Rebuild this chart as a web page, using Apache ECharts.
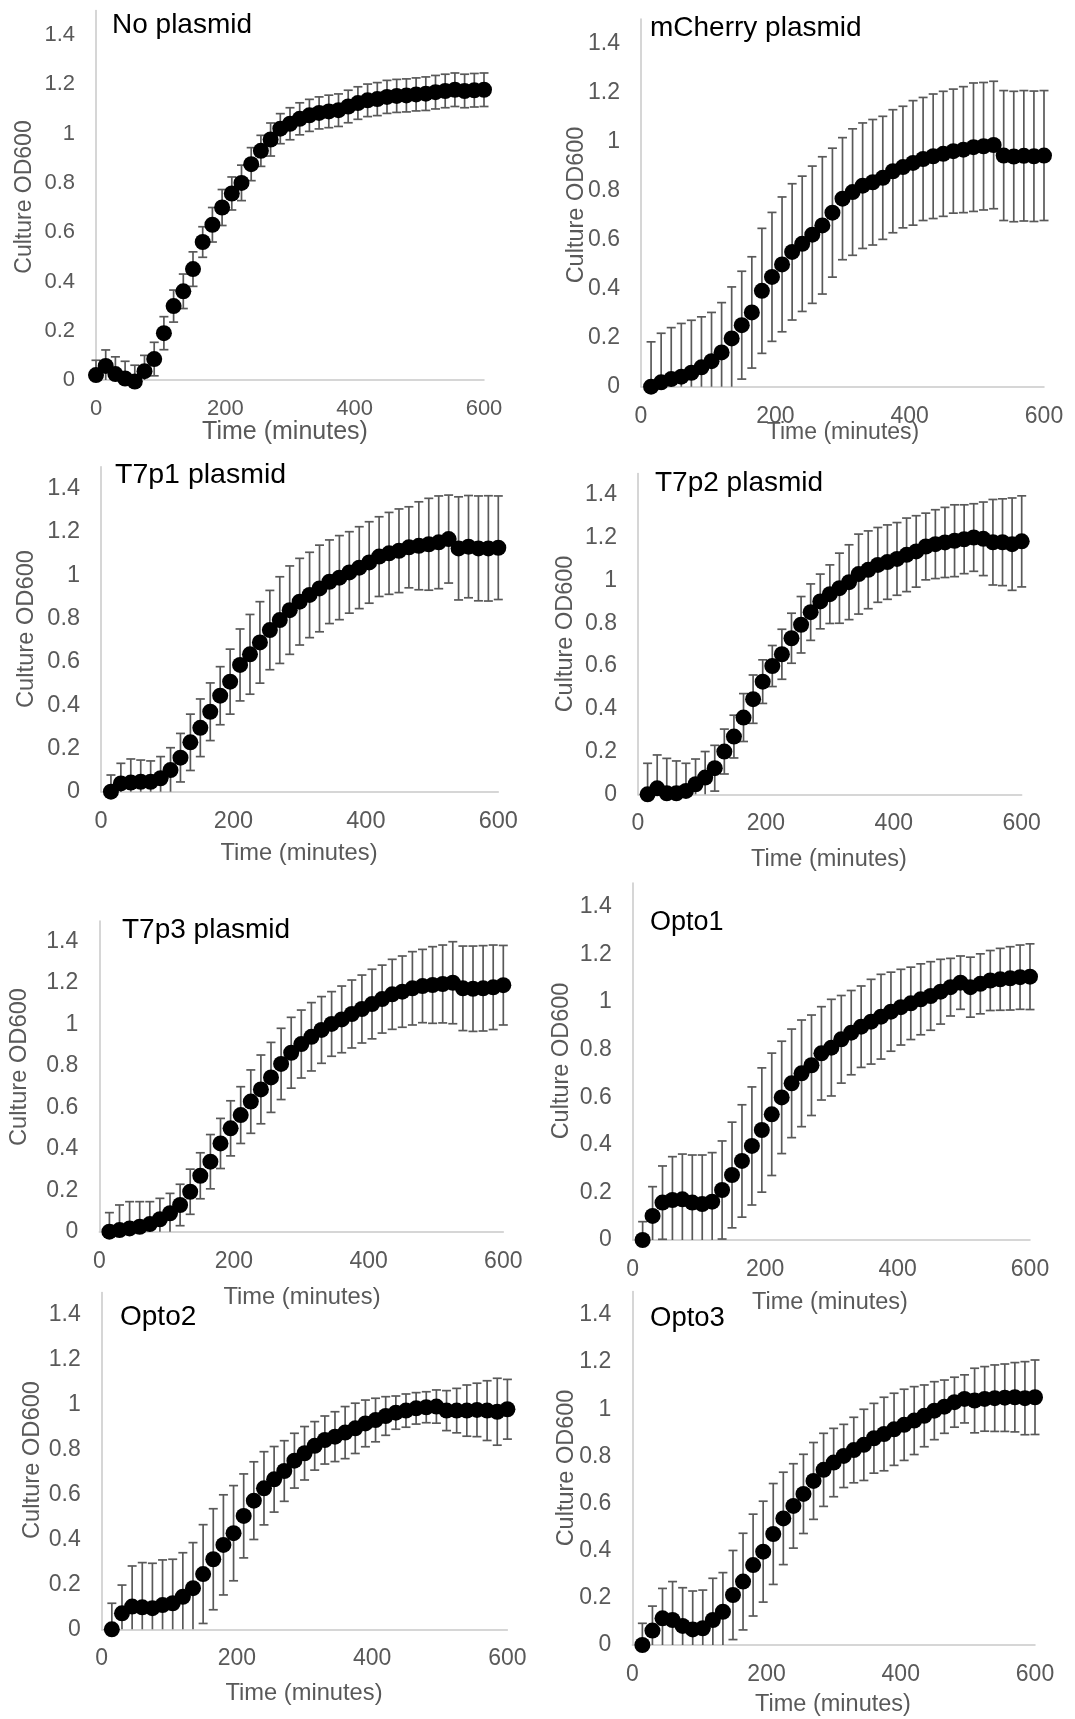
<!DOCTYPE html>
<html>
<head>
<meta charset="utf-8">
<title>Culture growth curves</title>
<script src="https://cdn.jsdelivr.net/npm/echarts@6/dist/echarts.min.js"></script>
<style>
  html, body { margin: 0; padding: 0; background: #ffffff; }
  #chart { width: 1075px; height: 1719px; }
</style>
</head>
<body>
<div id="chart"></div>
<script>
// Sampling times (minutes)
const timeFrom0 = [0, 15, 30, 45, 60, 75, 90, 105, 120, 135, 150, 165, 180, 195, 210, 225, 240, 255, 270, 285, 300,
  315, 330, 345, 360, 375, 390, 405, 420, 435, 450, 465, 480, 495, 510, 525, 540, 555, 570, 585, 600];
const timeFrom15 = [15, 30, 45, 60, 75, 90, 105, 120, 135, 150, 165, 180, 195, 210, 225, 240, 255, 270, 285, 300,
  315, 330, 345, 360, 375, 390, 405, 420, 435, 450, 465, 480, 495, 510, 525, 540, 555, 570, 585, 600];

// Mean OD600 and error for each strain
const noPlasmidOD = [0.02, 0.057, 0.024, 0.006, -0.006, 0.036, 0.085, 0.19, 0.30, 0.36, 0.45, 0.56, 0.63, 0.70, 0.757,
  0.80, 0.876, 0.93, 0.976, 1.02, 1.04, 1.06, 1.074, 1.084, 1.09, 1.095, 1.11, 1.124, 1.135, 1.14, 1.149, 1.153,
  1.155, 1.159, 1.162, 1.168, 1.173, 1.178, 1.173, 1.176, 1.178];
const noPlasmidErr = [0.06, 0.065, 0.07, 0.07, 0.066, 0.064, 0.068, 0.067, 0.065, 0.07, 0.07, 0.062, 0.07, 0.073,
  0.067, 0.072, 0.067, 0.063, 0.067, 0.061, 0.065, 0.065, 0.065, 0.065, 0.066, 0.066, 0.066, 0.066, 0.066, 0.067,
  0.067, 0.067, 0.067, 0.067, 0.068, 0.068, 0.068, 0.068, 0.068, 0.068, 0.068];

const mCherryOD = [0, 0.018, 0.031, 0.041, 0.057, 0.079, 0.104, 0.14, 0.197, 0.251,
  0.303, 0.391, 0.448, 0.499, 0.55, 0.583, 0.62, 0.658, 0.71, 0.767,
  0.794, 0.82, 0.834, 0.852, 0.879, 0.896, 0.913, 0.929, 0.94, 0.95,
  0.961, 0.967, 0.977, 0.981, 0.986, 0.943, 0.939, 0.942, 0.94, 0.943];
const mCherryErr = [0.183, 0.2, 0.21, 0.217, 0.214, 0.206, 0.199, 0.203, 0.21, 0.22,
  0.227, 0.255, 0.263, 0.275, 0.278, 0.276, 0.28, 0.28, 0.263, 0.249,
  0.258, 0.256, 0.256, 0.251, 0.251, 0.248, 0.254, 0.251, 0.254, 0.255,
  0.253, 0.257, 0.262, 0.26, 0.26, 0.265, 0.266, 0.266, 0.266, 0.265];

const t7p1OD = [0, 0.038, 0.042, 0.046, 0.046, 0.062, 0.1, 0.157, 0.228, 0.295,
  0.369, 0.443, 0.508, 0.585, 0.634, 0.689, 0.746, 0.792, 0.838, 0.877,
  0.908, 0.938, 0.969, 0.988, 1.012, 1.034, 1.058, 1.085, 1.1, 1.112,
  1.128, 1.135, 1.142, 1.151, 1.166, 1.123, 1.131, 1.123, 1.123, 1.126];
const t7p1Err = [0.077, 0.093, 0.109, 0.1, 0.096, 0.1, 0.103, 0.112, 0.13, 0.133,
  0.133, 0.134, 0.15, 0.166, 0.184, 0.188, 0.183, 0.2, 0.204, 0.2,
  0.197, 0.2, 0.193, 0.194, 0.188, 0.189, 0.188, 0.184, 0.189, 0.193,
  0.187, 0.203, 0.212, 0.214, 0.203, 0.238, 0.236, 0.242, 0.243, 0.239];

const t7p2OD = [0, 0.028, 0.005, 0.005, 0.016, 0.047, 0.078, 0.122, 0.2, 0.27,
  0.359, 0.445, 0.527, 0.6, 0.655, 0.73, 0.793, 0.852, 0.902, 0.936,
  0.964, 0.992, 1.03, 1.05, 1.073, 1.086, 1.101, 1.12, 1.136, 1.159,
  1.17, 1.178, 1.186, 1.193, 1.201, 1.195, 1.179, 1.179, 1.17, 1.183];
const t7p2Err = [0.145, 0.156, 0.163, 0.151, 0.129, 0.118, 0.122, 0.107, 0.105, 0.1,
  0.112, 0.113, 0.102, 0.096, 0.117, 0.117, 0.132, 0.132, 0.128, 0.137,
  0.164, 0.175, 0.187, 0.182, 0.175, 0.174, 0.17, 0.172, 0.167, 0.156,
  0.161, 0.164, 0.168, 0.161, 0.158, 0.172, 0.2, 0.203, 0.216, 0.213];

const t7p3OD = [0, 0.008, 0.016, 0.024, 0.037, 0.06, 0.089, 0.129, 0.193, 0.27,
  0.338, 0.426, 0.499, 0.563, 0.628, 0.687, 0.745, 0.81, 0.864, 0.906,
  0.941, 0.974, 1.003, 1.025, 1.051, 1.075, 1.099, 1.123, 1.146, 1.159,
  1.175, 1.186, 1.191, 1.196, 1.202, 1.175, 1.173, 1.175, 1.18, 1.19];
const t7p3Err = [0.092, 0.121, 0.129, 0.121, 0.108, 0.101, 0.096, 0.1, 0.109, 0.111,
  0.131, 0.121, 0.133, 0.137, 0.153, 0.166, 0.169, 0.172, 0.171, 0.164,
  0.165, 0.161, 0.156, 0.161, 0.164, 0.164, 0.168, 0.164, 0.169, 0.172,
  0.177, 0.177, 0.185, 0.188, 0.198, 0.204, 0.206, 0.206, 0.204, 0.192];

const opto1OD = [0, 0.101, 0.157, 0.168, 0.171, 0.157, 0.151, 0.161, 0.21, 0.273,
  0.332, 0.395, 0.462, 0.528, 0.599, 0.658, 0.7, 0.734, 0.784, 0.808,
  0.843, 0.871, 0.896, 0.917, 0.938, 0.959, 0.978, 0.994, 1.011, 1.025,
  1.043, 1.062, 1.081, 1.062, 1.076, 1.09, 1.095, 1.099, 1.104, 1.106];
const opto1Err = [0.077, 0.123, 0.154, 0.182, 0.19, 0.2, 0.206, 0.206, 0.206, 0.222,
  0.236, 0.248, 0.261, 0.257, 0.236, 0.228, 0.224, 0.211, 0.196, 0.203,
  0.184, 0.177, 0.171, 0.178, 0.178, 0.166, 0.159, 0.152, 0.149, 0.144,
  0.136, 0.121, 0.112, 0.126, 0.126, 0.126, 0.13, 0.133, 0.135, 0.138];

const opto2OD = [0, 0.071, 0.101, 0.098, 0.094, 0.108, 0.116, 0.145, 0.183, 0.246,
  0.312, 0.376, 0.428, 0.505, 0.573, 0.628, 0.668, 0.705, 0.751, 0.784,
  0.817, 0.843, 0.858, 0.876, 0.895, 0.917, 0.932, 0.95, 0.965, 0.974,
  0.984, 0.989, 0.992, 0.974, 0.974, 0.974, 0.977, 0.974, 0.969, 0.98];
const opto2Err = [0.116, 0.126, 0.181, 0.199, 0.2, 0.201, 0.196, 0.196, 0.203, 0.22,
  0.225, 0.223, 0.212, 0.187, 0.173, 0.163, 0.146, 0.135, 0.122, 0.119,
  0.108, 0.107, 0.111, 0.116, 0.112, 0.104, 0.097, 0.086, 0.074, 0.074,
  0.07, 0.069, 0.074, 0.089, 0.099, 0.114, 0.119, 0.133, 0.149, 0.133];

const opto3OD = [0, 0.061, 0.113, 0.106, 0.081, 0.066, 0.071, 0.106, 0.141, 0.212,
  0.269, 0.339, 0.396, 0.471, 0.537, 0.59, 0.641, 0.696, 0.743, 0.774,
  0.802, 0.827, 0.849, 0.877, 0.895, 0.915, 0.934, 0.952, 0.972, 0.994,
  1.011, 1.03, 1.044, 1.037, 1.044, 1.047, 1.049, 1.051, 1.047, 1.051];
const opto3Err = [0.092, 0.104, 0.127, 0.163, 0.162, 0.163, 0.162, 0.177, 0.166, 0.189,
  0.205, 0.216, 0.214, 0.214, 0.196, 0.179, 0.168, 0.163, 0.155, 0.145,
  0.134, 0.139, 0.151, 0.148, 0.156, 0.153, 0.151, 0.144, 0.131, 0.123,
  0.113, 0.106, 0.102, 0.137, 0.137, 0.141, 0.143, 0.147, 0.155, 0.158];

// Panel labels and axis text
const panelTitles = ['No plasmid', 'mCherry plasmid', 'T7p1 plasmid', 'T7p2 plasmid',
  'T7p3 plasmid', 'Opto1', 'Opto2', 'Opto3'];
const xAxisTitle = 'Time (minutes)';
const yAxisTitle = 'Culture OD600';
const xTicks = { min: 0, max: 600, step: 200 };
const yTicks = { min: 0, max: 1.5, step: 0.2 };

const panelData = [
  { t: timeFrom0, od: noPlasmidOD, err: noPlasmidErr },
  { t: timeFrom15, od: mCherryOD, err: mCherryErr },
  { t: timeFrom15, od: t7p1OD, err: t7p1Err },
  { t: timeFrom15, od: t7p2OD, err: t7p2Err },
  { t: timeFrom15, od: t7p3OD, err: t7p3Err },
  { t: timeFrom15, od: opto1OD, err: opto1Err },
  { t: timeFrom15, od: opto2OD, err: opto2Err },
  { t: timeFrom15, od: opto3OD, err: opto3Err }
];

// Placement of each small chart on the page
const layout = [
  { grid: [96, 10.4, 388, 369.6],      tick: 22,   xName: [285, 432, 25],  yName: [25, 197, 23],   title: [112, 25, 28] },
  { grid: [641, 19, 403, 367.7],       tick: 23,   xName: [843, 433, 23],  yName: [577, 205, 23.5], title: [650, 28, 28] },
  { grid: [101, 466.7, 397.3, 325],    tick: 23.5, xName: [299, 853, 23.7], yName: [26, 629, 23.7], title: [115, 475, 28.5] },
  { grid: [638, 473.6, 383.7, 320.7],  tick: 23,   xName: [829, 860, 23.5], yName: [566, 634, 23.5], title: [655, 483, 28] },
  { grid: [99.3, 921, 404, 310.7],     tick: 23,   xName: [302, 1297, 23.7], yName: [19, 1067, 23.7], title: [122, 930, 28] },
  { grid: [632.7, 882.9, 397.3, 357.1], tick: 23,  xName: [830, 1303, 23.5], yName: [562, 1061, 23.5], title: [650, 923, 27] },
  { grid: [101.7, 1292.5, 405.7, 336.8], tick: 23, xName: [304, 1693, 23.7], yName: [32, 1460, 23.7], title: [120, 1317, 28] },
  { grid: [632.3, 1291.4, 402.7, 353.6], tick: 23, xName: [833, 1705, 23.5], yName: [567, 1468, 23.5], title: [650, 1318, 27.5] }
];

const FONT = '"Liberation Sans", Arial, Helvetica, sans-serif';
const AXIS_GRAY = '#595959';
const LINE_GRAY = '#c9c9c9';

// Vertical error bar with caps; the lower end stops at the axis floor
function renderErrorBar(params, api) {
  const x = api.value(0);
  const m = api.value(1);
  const e = api.value(2);
  const hi = api.coord([x, m + e]);
  const lo = api.coord([x, Math.max(0, m - e)]);
  const half = 4.5;
  const style = { stroke: '#595959', lineWidth: 1.7, fill: null };
  const children = [
    { type: 'line', shape: { x1: hi[0], y1: hi[1], x2: lo[0], y2: lo[1] }, style: style },
    { type: 'line', shape: { x1: hi[0] - half, y1: hi[1], x2: hi[0] + half, y2: hi[1] }, style: style }
  ];
  if (m - e >= 0) {
    children.push({ type: 'line', shape: { x1: lo[0] - half, y1: lo[1], x2: lo[0] + half, y2: lo[1] }, style: style });
  }
  return { type: 'group', children: children };
}

const grids = [], xAxes = [], yAxes = [], series = [], graphics = [];

layout.forEach(function (L, i) {
  const d = panelData[i];
  grids.push({ left: L.grid[0], top: L.grid[1], width: L.grid[2], height: L.grid[3], containLabel: false });

  xAxes.push({
    gridIndex: i, type: 'value', min: xTicks.min, max: xTicks.max, interval: xTicks.step,
    axisLine: { show: true, onZero: false, lineStyle: { color: LINE_GRAY, width: 1.5 } },
    axisTick: { show: false }, splitLine: { show: false },
    axisLabel: { color: AXIS_GRAY, fontSize: L.tick, fontFamily: FONT, margin: 18 }
  });
  yAxes.push({
    gridIndex: i, type: 'value', min: yTicks.min, max: yTicks.max, interval: yTicks.step,
    axisLine: { show: true, lineStyle: { color: LINE_GRAY, width: 1.5 } },
    axisTick: { show: false }, splitLine: { show: false },
    axisLabel: {
      color: AXIS_GRAY, fontSize: L.tick, fontFamily: FONT, margin: 21, showMaxLabel: false,
      formatter: function (v) { return String(+v.toFixed(1)); }
    }
  });

  series.push({
    type: 'custom', xAxisIndex: i, yAxisIndex: i, z: 2, silent: true,
    renderItem: renderErrorBar, encode: { x: 0, y: 1 },
    data: d.t.map(function (t, k) { return [t, d.od[k], d.err[k]]; })
  });
  series.push({
    type: 'scatter', xAxisIndex: i, yAxisIndex: i, z: 3, clip: false, silent: true,
    symbol: 'circle', symbolSize: 16, itemStyle: { color: '#000000', opacity: 1 },
    data: d.t.map(function (t, k) { return [t, d.od[k]]; })
  });

  graphics.push({
    type: 'text', x: L.title[0], y: L.title[1], silent: true,
    style: { text: panelTitles[i], fill: '#000000', font: L.title[2] + 'px ' + FONT,
      textAlign: 'left', textVerticalAlign: 'middle', align: 'left', verticalAlign: 'middle' }
  });
  graphics.push({
    type: 'text', x: L.xName[0], y: L.xName[1], silent: true,
    style: { text: xAxisTitle, fill: AXIS_GRAY, font: L.xName[2] + 'px ' + FONT,
      textAlign: 'center', textVerticalAlign: 'middle', align: 'center', verticalAlign: 'middle' }
  });
  graphics.push({
    type: 'text', x: L.yName[0], y: L.yName[1], rotation: Math.PI / 2, silent: true,
    style: { text: yAxisTitle, fill: AXIS_GRAY, font: L.yName[2] + 'px ' + FONT,
      textAlign: 'center', textVerticalAlign: 'middle', align: 'center', verticalAlign: 'middle' }
  });
});

const chart = echarts.init(document.getElementById('chart'), null, { renderer: 'canvas' });
chart.setOption({
  backgroundColor: '#ffffff',
  animation: false,
  grid: grids,
  xAxis: xAxes,
  yAxis: yAxes,
  series: series,
  graphic: graphics
});
</script>
</body>
</html>
